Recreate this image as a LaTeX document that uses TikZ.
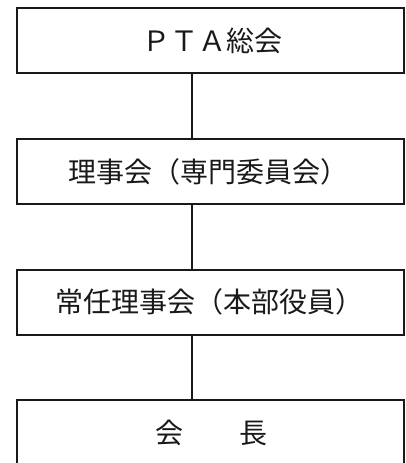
\documentclass[tikz,border=0pt]{standalone}
\usepackage{fontspec}
\newfontfamily\cjk{Noto Sans CJK JP}
\begin{document}
\begin{tikzpicture}[x=1pt,y=-1pt,
  orgbox/.style={draw=black!90, line width=2pt, minimum width=387.5pt, minimum height=65pt, inner sep=0pt},
  label/.style={inner sep=0pt, text=black!90, font=\cjk\fontsize{28}{32}\selectfont},
  link/.style={draw=black!90, line width=2pt}]
\useasboundingbox (0,0) rectangle (406,463);
\clip (0,0) rectangle (406,463);
\node[orgbox] (b1) at (210.25,40.75) {};
\node[orgbox] (b2) at (210.25,171.5) {};
\node[orgbox] (b3) at (210.25,302) {};
\node[orgbox] (b4) at (210.25,432.5) {};
\node[label] (t1) at (212,40.75) {ＰＴＡ総会};
\node[label] (t2) at (208,171.5) {理事会（専門委員会）};
\node[label] (t3) at (209,302) {常任理事会（本部役員）};
\node[label] (t4) at (211,432.5) {会　　長};
\draw[link] ([xshift=-18.25pt]b1.south) -- ([xshift=-18.25pt]b2.north);
\draw[link] ([xshift=-18.25pt]b2.south) -- ([xshift=-18.25pt]b3.north);
\draw[link] ([xshift=-18.25pt]b3.south) -- ([xshift=-18.25pt]b4.north);
\end{tikzpicture}
\end{document}
